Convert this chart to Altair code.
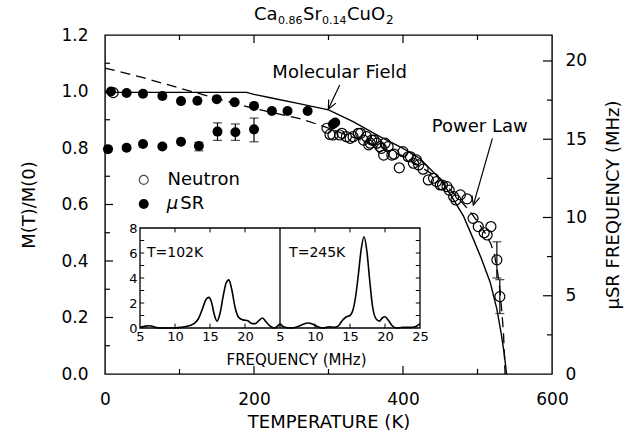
import altair as alt
import pandas as pd

FONT = "DejaVu Sans"
W, H = 447, 339
F0 = 18.05  # MHz corresponding to M(T)/M(0) = 1

# ---------------- data ----------------
# muSR, upper branch
musr_hi_T = [8, 29, 51, 77, 102, 124, 150, 174, 200, 224, 245, 272, 306, 309]
musr_hi_M = [1.0, 0.995, 0.992, 0.984, 0.966, 0.967, 0.973, 0.962, 0.949, 0.931, 0.931, 0.931, 0.884, 0.89]
# muSR, lower branch
musr_lo_T = [4, 29, 51, 77, 102, 126, 151, 175, 200]
musr_lo_M = [0.796, 0.801, 0.814, 0.805, 0.822, 0.807, 0.858, 0.856, 0.866]
# neutron
neut_T = [11, 298, 302, 306, 315, 318, 324, 329, 333, 340, 343, 347, 351, 354, 356, 358, 361,
          365, 369, 371, 374, 376, 380, 385, 388, 395, 400, 407, 410, 414, 418, 421, 427, 434,
          441, 445, 450, 453, 459, 462, 468, 471, 477, 486, 494, 501, 509, 513, 518, 526, 530]
neut_M = [0.996, 0.870, 0.848, 0.846, 0.846, 0.852, 0.840, 0.834, 0.840, 0.852, 0.852, 0.828,
          0.840, 0.811, 0.817, 0.828, 0.828, 0.817, 0.805, 0.799, 0.775, 0.817, 0.805, 0.775,
          0.778, 0.730, 0.787, 0.769, 0.769, 0.746, 0.758, 0.740, 0.725, 0.687, 0.693, 0.681,
          0.669, 0.669, 0.663, 0.651, 0.628, 0.616, 0.634, 0.620, 0.551, 0.522, 0.500, 0.492,
          0.522, 0.404, 0.274]
# error bars
err_T = [126, 151, 175, 200, 526, 530]
err_lo = [0.790, 0.827, 0.827, 0.822, 0.340, 0.214]
err_hi = [0.820, 0.889, 0.885, 0.906, 0.468, 0.334]
# molecular field curve (solid)
mf_T = [0, 100, 190, 200, 222, 262, 300, 333, 369, 400, 423, 450, 465, 481, 494, 505, 517, 526, 532, 536, 539]
mf_M = [0.997, 0.997, 0.997, 0.99, 0.978, 0.956, 0.935, 0.893, 0.840, 0.799, 0.762, 0.690, 0.630,
        0.560, 0.480, 0.410, 0.325, 0.230, 0.140, 0.070, 0.0]
# power law curve (dashed)
pl_T = [0, 50, 100, 150, 200, 260, 285, 300, 350, 400, 450, 480, 490, 500, 510, 518, 523, 527, 530, 533, 535, 537]
pl_M = [1.083, 1.05, 1.012, 0.975, 0.94, 0.905, 0.884, 0.87, 0.822, 0.772, 0.69, 0.605, 0.575, 0.54,
        0.50, 0.46, 0.42, 0.36, 0.30, 0.21, 0.14, 0.0]
# inset spectra
f102 = [5.0, 5.8, 6.4, 7.2, 8.0, 9.5, 10.8, 12.0, 12.7, 13.3, 13.9, 14.4, 14.8, 15.2, 15.6, 16.0,
        16.4, 16.9, 17.3, 17.7, 18.1, 18.6, 19.1, 19.7, 20.4, 21.0, 21.5, 22.0, 22.5, 23.0, 23.6, 24.2, 25.0]
a102 = [0.05, 0.15, 0.18, 0.05, 0.0, 0.0, 0.05, 0.18, 0.35, 0.7, 1.5, 2.25, 2.45, 2.1, 1.1, 0.55,
        1.1, 2.6, 3.6, 3.85, 3.1, 1.6, 0.85, 0.65, 0.58, 0.35, 0.35, 0.6, 0.8, 0.5, 0.15, 0.0, 0.35]
f245 = [5.0, 5.5, 6.5, 7.5, 8.3, 9.0, 9.7, 10.4, 11.2, 12.0, 12.7, 13.3, 13.9, 14.5, 15.0, 15.4,
        15.8, 16.2, 16.6, 17.0, 17.4, 17.8, 18.2, 18.7, 19.2, 19.6, 20.0, 20.5, 21.0, 21.7, 22.5, 23.5, 24.3, 25.0]
a245 = [0.35, 0.1, 0.0, 0.1, 0.3, 0.4, 0.3, 0.1, 0.0, 0.1, 0.05, 0.15, 0.6, 0.9, 1.0, 1.4,
        2.5, 4.3, 6.3, 7.3, 6.2, 3.9, 1.8, 0.75, 0.55, 0.8, 0.9, 0.6, 0.2, 0.0, 0.05, 0.05, 0.1, 0.35]

# tick values
x_major = [200, 400]
x_minor = [100, 300, 500]
y_major = [0.2, 0.4, 0.6, 0.8, 1.0]
y_minor = [0.1, 0.3, 0.5, 0.7, 0.9, 1.1]
r_major = [5, 10, 15, 20]
r_minor = [2.5, 7.5, 12.5, 17.5]
x_labels = [0, 200, 400, 600]
y_labels = [0.0, 0.2, 0.4, 0.6, 0.8, 1.0, 1.2]
r_labels = [0, 5, 10, 15, 20]
inset_x_ticks = [10, 15, 20, 30, 35, 40]
inset_y_ticks = [1, 2, 3, 4, 5, 6, 7]
inset_labels = [5, 10, 15, 20, 25, 30, 35, 40, 45]

# ---------------- encodings ----------------
def XT():
    return alt.X("T:Q", scale=alt.Scale(domain=[0, 600], nice=False, zero=False),
                 axis=alt.Axis(values=x_labels, ticks=False, tickSize=0, domain=False, grid=False,
                               labelFlush=False, labelFontSize=17, labelPadding=17,
                               title="TEMPERATURE (K)", titleFontSize=18, titlePadding=6))

def YM():
    return alt.Y("M:Q", scale=alt.Scale(domain=[0, 1.2], nice=False, zero=False),
                 axis=alt.Axis(values=y_labels, format=".1f", ticks=False, tickSize=0, domain=False,
                               grid=False, labelFlush=False, labelFontSize=17, labelPadding=17,
                               title="M(T)/M(0)", titleFontSize=18, titlePadding=22))

def IX():
    return alt.X("f:Q", scale=alt.Scale(domain=[5, 45], range=[35, 315], nice=False, zero=False),
                 axis=alt.Axis(orient="bottom", offset=-46, values=inset_labels,
                               labelExpr="datum.value > 20 ? datum.value - 20 : datum.value",
                               ticks=False, tickSize=0, domain=False, grid=False, labelFlush=False,
                               labelFontSize=13, labelPadding=2, title="FREQUENCY (MHz)",
                               titleFontSize=15, titlePadding=9, titleX=191))

def IY():
    return alt.Y("a:Q", scale=alt.Scale(domain=[0, 8], range=[293, 193], nice=False, zero=False),
                 axis=alt.Axis(orient="left", offset=-35, values=[0, 2, 4, 6, 8], ticks=False,
                               tickSize=0, domain=False, grid=False, labelFlush=False,
                               labelFontSize=13, labelPadding=3, title=None))

# ---------------- main panel ----------------
df_mf = pd.DataFrame({"T": mf_T, "M": mf_M})
df_pl = pd.DataFrame({"T": pl_T, "M": pl_M})
df_hi = pd.DataFrame({"T": musr_hi_T, "M": musr_hi_M})
df_lo = pd.DataFrame({"T": musr_lo_T, "M": musr_lo_M})
df_n = pd.DataFrame({"T": neut_T, "M": neut_M})
df_err = pd.DataFrame({"T": err_T, "M": err_lo, "M2": err_hi})

pl_line = alt.Chart(df_pl).mark_line(color="black", strokeWidth=1.3, strokeDash=[10, 6]).encode(x=XT(), y=YM())
mf_line = alt.Chart(df_mf).mark_line(color="black", strokeWidth=1.4).encode(x=XT(), y=YM())
err_rule = alt.Chart(df_err).mark_rule(color="black", strokeWidth=1.2).encode(x=XT(), y=YM(), y2="M2:Q")
err_cap_lo = alt.Chart(df_err).mark_tick(color="black", orient="horizontal", size=9, thickness=1.2).encode(x=XT(), y=YM())
err_cap_hi = alt.Chart(df_err).mark_tick(color="black", orient="horizontal", size=9, thickness=1.2).encode(x=XT(), y=alt.Y("M2:Q"))
neut = alt.Chart(df_n).mark_point(shape="circle", filled=False, color="black", size=100, strokeWidth=1.2, opacity=1).encode(x=XT(), y=YM())
hi_pts = alt.Chart(df_hi).mark_circle(color="black", size=100, opacity=1).encode(x=XT(), y=YM())
lo_pts = alt.Chart(df_lo).mark_circle(color="black", size=100, opacity=1).encode(x=XT(), y=YM())

# legend
leg_open = alt.Chart(pd.DataFrame({"T": [52], "M": [0.687]})).mark_point(shape="circle", filled=False, color="black", size=80, strokeWidth=1.2).encode(x=XT(), y=YM())
leg_fill = alt.Chart(pd.DataFrame({"T": [52], "M": [0.602]})).mark_circle(color="black", size=100, opacity=1).encode(x=XT(), y=YM())
leg_txt1 = alt.Chart(pd.DataFrame({"T": [84], "M": [0.687], "t": ["Neutron"]})).mark_text(align="left", baseline="middle", font=FONT, fontSize=18, color="black").encode(x=XT(), y=YM(), text="t:N")
leg_mu = alt.Chart(pd.DataFrame({"T": [83], "M": [0.602], "t": ["μ"]})).mark_text(align="left", baseline="middle", font=FONT, fontSize=18, fontStyle="italic", color="black").encode(x=XT(), y=YM(), text="t:N")
leg_sr = alt.Chart(pd.DataFrame({"T": [101], "M": [0.602], "t": ["SR"]})).mark_text(align="left", baseline="middle", font=FONT, fontSize=18, color="black").encode(x=XT(), y=YM(), text="t:N")

# annotations
df_ann = pd.DataFrame({"T": [315, 503], "M": [1.067, 0.875], "t": ["Molecular Field", "Power Law"]})
ann_txt = alt.Chart(df_ann).mark_text(align="center", baseline="middle", font=FONT, fontSize=18, color="black").encode(x=XT(), y=YM(), text="t:N")
df_arr = pd.DataFrame({"T": [315, 520], "M": [1.023, 0.834], "T2": [299.7, 494.4], "M2": [0.937, 0.598]})
arr_line = alt.Chart(df_arr).mark_rule(color="black", strokeWidth=1.2).encode(x=XT(), y=YM(), x2="T2:Q", y2="M2:Q")
head1 = alt.Chart(pd.DataFrame({"T": [299.7], "M": [0.937]})).mark_point(shape="M-0.45,-1L0,0L0.45,-1", filled=False, color="black", size=320, strokeWidth=1.2, angle=27, opacity=1).encode(x=XT(), y=YM())
head2 = alt.Chart(pd.DataFrame({"T": [494.4], "M": [0.598]})).mark_point(shape="M-0.45,-1L0,0L0.45,-1", filled=False, color="black", size=320, strokeWidth=1.2, angle=16, opacity=1).encode(x=XT(), y=YM())

# frame ticks (inward)
tick_b_major = alt.Chart(pd.DataFrame({"T": x_major})).mark_rule(color="black", strokeWidth=1.2).encode(x=XT(), y=alt.value(H), y2=alt.value(H - 8))
tick_b_minor = alt.Chart(pd.DataFrame({"T": x_minor})).mark_rule(color="black", strokeWidth=1.2).encode(x=XT(), y=alt.value(H), y2=alt.value(H - 5))
tick_t_major = alt.Chart(pd.DataFrame({"T": x_major})).mark_rule(color="black", strokeWidth=1.2).encode(x=XT(), y=alt.value(0), y2=alt.value(8))
tick_t_minor = alt.Chart(pd.DataFrame({"T": x_minor})).mark_rule(color="black", strokeWidth=1.2).encode(x=XT(), y=alt.value(0), y2=alt.value(5))
tick_l_major = alt.Chart(pd.DataFrame({"M": y_major})).mark_rule(color="black", strokeWidth=1.2).encode(y=YM(), x=alt.value(0), x2=alt.value(8))
tick_l_minor = alt.Chart(pd.DataFrame({"M": y_minor})).mark_rule(color="black", strokeWidth=1.2).encode(y=YM(), x=alt.value(0), x2=alt.value(5))

# title with subscripts
def tpiece(txt, px, py, size):
    return alt.Chart(pd.DataFrame({"t": [txt]})).mark_text(align="left", baseline="alphabetic", font=FONT, fontSize=size, color="black").encode(text="t:N", x=alt.value(px), y=alt.value(py))

title_layers = [tpiece("Ca", 149, -15.5, 18), tpiece("0.86", 173, -11, 11), tpiece("Sr", 198, -15.5, 18),
                tpiece("0.14", 217, -11, 11), tpiece("CuO", 242, -15.5, 18), tpiece("2", 281, -11, 12)]

main = alt.layer(pl_line, mf_line, err_rule, err_cap_lo, err_cap_hi, neut, hi_pts, lo_pts,
                 leg_open, leg_fill, leg_txt1, leg_mu, leg_sr, ann_txt, arr_line, head1, head2,
                 tick_b_major, tick_b_minor, tick_t_major, tick_t_minor, tick_l_major, tick_l_minor,
                 *title_layers)

# ---------------- right axis (muSR frequency) ----------------
def YF():
    return alt.Y("F:Q", scale=alt.Scale(domain=[0, 1.2 * F0], nice=False, zero=False),
                 axis=alt.Axis(orient="right", values=r_labels, ticks=False, tickSize=0, domain=False,
                               grid=False, labelFlush=False, labelFontSize=17, labelPadding=13,
                               title="μSR FREQUENCY (MHz)", titleAngle=270, titleFontSize=18,
                               titlePadding=36))

r_major_l = alt.Chart(pd.DataFrame({"F": r_major})).mark_rule(color="black", strokeWidth=1.2).encode(y=YF(), x=alt.value(W), x2=alt.value(W - 9))
r_minor_l = alt.Chart(pd.DataFrame({"F": r_minor})).mark_rule(color="black", strokeWidth=1.2).encode(y=YF(), x=alt.value(W), x2=alt.value(W - 5))
right = alt.layer(r_major_l, r_minor_l)

# ---------------- inset ----------------
df_frame = pd.DataFrame({"f": [5], "f2": [45], "a": [0], "a2": [8]})
frame = alt.Chart(df_frame).mark_rect(fill="white", stroke="black", strokeWidth=1.3).encode(x=IX(), x2="f2:Q", y=IY(), y2="a2:Q")
divider = alt.Chart(pd.DataFrame({"f": [25], "a": [0], "a2": [8]})).mark_rule(color="black", strokeWidth=1.3).encode(x=IX(), y=IY(), y2="a2:Q")
df_spec = pd.concat([
    pd.DataFrame({"f": f102, "a": a102, "p": "102K"}),
    pd.DataFrame({"f": [v + 20 for v in f245], "a": a245, "p": "245K"}),
])
spec = alt.Chart(df_spec).mark_line(color="black", strokeWidth=1.6, interpolate="monotone").encode(x=IX(), y=IY(), detail="p:N")
df_it = pd.DataFrame({"f": [6.0, 26.3], "a": [6.0, 6.0], "t": ["T=102K", "T=245K"]})
itxt = alt.Chart(df_it).mark_text(align="left", baseline="middle", font=FONT, fontSize=14, color="black").encode(x=IX(), y=IY(), text="t:N")
it_b = alt.Chart(pd.DataFrame({"f": inset_x_ticks, "a": 0, "a2": 0.35})).mark_rule(color="black").encode(x=IX(), y=IY(), y2="a2:Q")
it_t = alt.Chart(pd.DataFrame({"f": inset_x_ticks, "a": 8, "a2": 7.65})).mark_rule(color="black").encode(x=IX(), y=IY(), y2="a2:Q")
it_l = alt.Chart(pd.DataFrame({"a": inset_y_ticks, "f": 5, "f2": 5.6})).mark_rule(color="black").encode(x=IX(), x2="f2:Q", y=IY())
it_r = alt.Chart(pd.DataFrame({"a": inset_y_ticks, "f": 45, "f2": 44.4})).mark_rule(color="black").encode(x=IX(), x2="f2:Q", y=IY())
inset = alt.layer(frame, spec, divider, it_b, it_t, it_l, it_r, itxt)

chart = alt.layer(main, right, inset).resolve_scale(x="independent", y="independent").properties(
    width=W, height=H,
    autosize=alt.AutoSizeParams(type="none"),
    padding={"left": 105, "top": 35, "right": 85, "bottom": 58},
    background="white",
).configure_view(stroke="black", strokeWidth=1.4).configure_axis(
    labelFont=FONT, titleFont=FONT, labelColor="black", titleColor="black", titleFontWeight="normal"
)

chart.save("out.html", embed_options={"renderer": "svg", "actions": False})
